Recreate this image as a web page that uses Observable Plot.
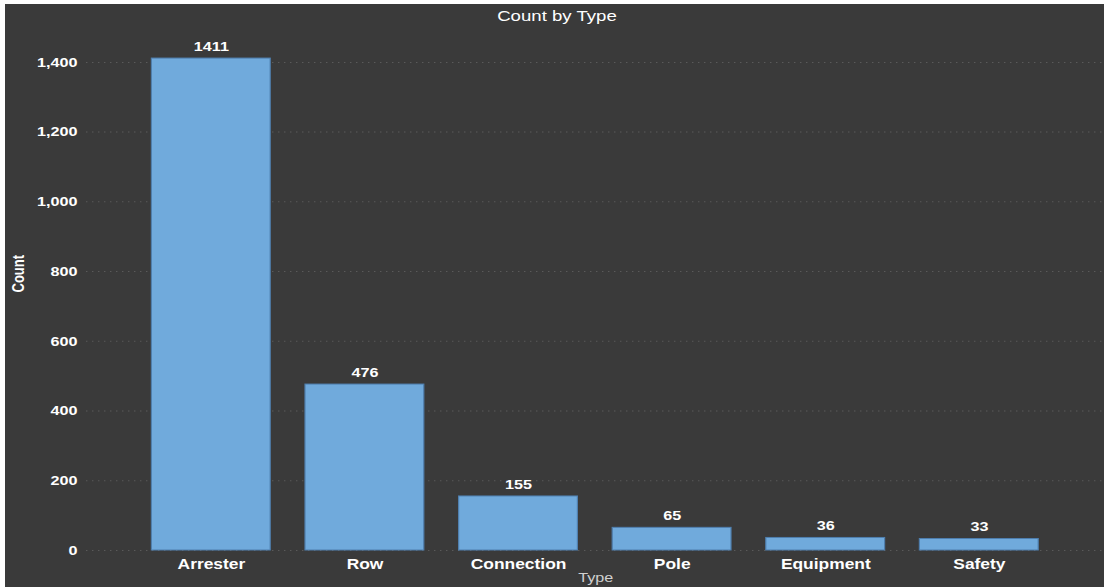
<!DOCTYPE html>
<html>
<head>
<meta charset="utf-8">
<script src="https://cdn.jsdelivr.net/npm/d3@7"></script>
<script src="https://cdn.jsdelivr.net/npm/@observablehq/plot@0.6"></script>
<style>
  html, body { margin: 0; padding: 0; background: #ffffff; }
  #panel {
    position: absolute; left: 5px; top: 4px; width: 1099px; height: 583px;
    background: #3a3a3a; overflow: hidden;
  }
  #stretch {
    position: absolute; left: 0; top: 0; width: 916px; height: 583px;
    transform: scaleX(1.2); transform-origin: 0 0;
  }
  #title {
    position: absolute; left: 2px; top: 3px; width: 916px; text-align: center;
    font-family: "Liberation Sans", Arial, sans-serif; font-size: 15.5px; color: #ffffff;
  }
  #chart { position: absolute; left: 0; top: 0; }
</style>
</head>
<body>
<div id="panel"><div id="stretch"><div id="chart"></div><div id="title">Count by Type</div></div></div>
<script>
const types = ["Arrester", "Row", "Connection", "Pole", "Equipment", "Safety"];
const counts = [1411, 476, 155, 65, 36, 33];
const yTicks = [0, 200, 400, 600, 800, 1000, 1200, 1400];

const data = types.map((t, i) => ({type: t, count: counts[i]}));

const plot = Plot.plot({
  width: 916,
  height: 583,
  marginLeft: 67.5,
  marginRight: 0,
  marginTop: 30,
  marginBottom: 37,
  style: {background: "transparent", fontFamily: "Liberation Sans, Arial, sans-serif", color: "#ffffff"},
  x: {domain: types, paddingInner: 0.227, paddingOuter: 0.41, label: null},
  y: {domain: [0, 1480], label: null},
  marks: [
    Plot.ruleY(yTicks, {stroke: "#5a5a5a", strokeWidth: 1, strokeDasharray: "1.2,3.8"}),
    Plot.barY(data, {x: "type", y: "count", fill: "#70aadc", stroke: "#4f7fae", strokeWidth: 1}),
    Plot.text(data, {x: "type", y: "count", text: d => String(d.count), dy: -12,
      fill: "#ffffff", fontSize: 13.5, fontWeight: "bold"}),
    Plot.axisY({ticks: yTicks, tickSize: 0, tickPadding: 7.5, tickFormat: d3.format(","),
      fontSize: 13.5, fontWeight: "bold", fill: "#ffffff", label: null}),
    Plot.axisX({tickSize: 0, tickPadding: 8, fontSize: 14.5, fontWeight: "bold", fill: "#ffffff", label: null}),
    Plot.text(["Type"], {frameAnchor: "bottom", dy: 31, fill: "#d0d0d0", fontSize: 13.5}),
    Plot.text(["Count"], {frameAnchor: "left", dx: -56, rotate: -90, fill: "#ffffff", fontSize: 13, fontWeight: "bold"})
  ]
});
document.getElementById("chart").appendChild(plot);
</script>
</body>
</html>
